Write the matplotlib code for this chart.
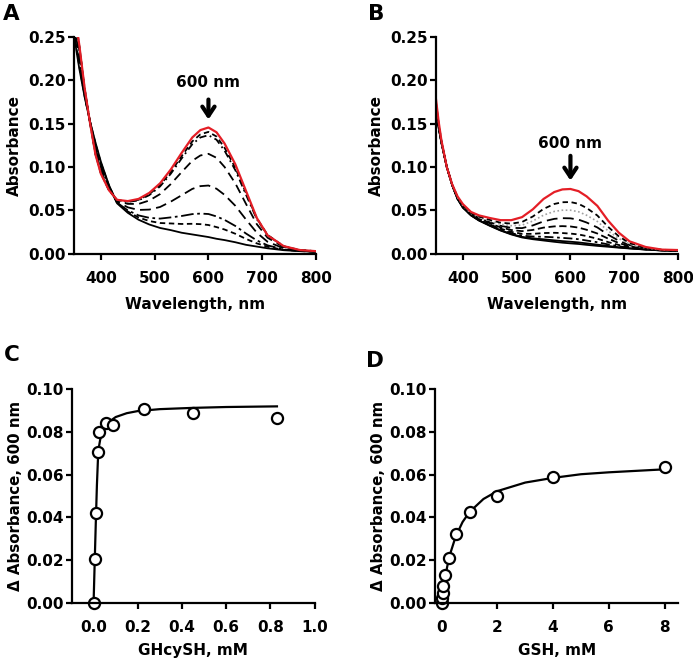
import matplotlib
matplotlib.use('Agg')
import matplotlib.pyplot as plt

plt.rcParams['font.family'] = ['DejaVu Sans']
plt.rcParams['font.weight'] = 'bold'
plt.rcParams['axes.labelweight'] = 'bold'
plt.rcParams['font.size'] = 11

RED = '#e41e26'

# wavelength grid, nm
wl = [350, 355, 360, 370, 380, 390, 400, 415, 430, 450, 470, 490, 510, 530, 550,
      570, 585, 600, 615, 630, 650, 670, 690, 710, 740, 770, 800]

# panel A spectra
a_final = [0.285, 0.262, 0.240, 0.190, 0.150, 0.114, 0.092, 0.073, 0.062, 0.0605, 0.063, 0.070, 0.081, 0.097,
           0.116, 0.134, 0.1425, 0.1455, 0.140, 0.127, 0.103, 0.072, 0.041, 0.021, 0.0085, 0.004, 0.0027]
a_base = [0.253, 0.232, 0.213, 0.180, 0.152, 0.128, 0.106, 0.079, 0.058, 0.047, 0.039, 0.0335, 0.0295, 0.027,
          0.024, 0.022, 0.0205, 0.019, 0.017, 0.0155, 0.013, 0.010, 0.008, 0.006, 0.0038, 0.0027, 0.002]
a_96 = [0.2837, 0.2608, 0.2389, 0.1896, 0.1501, 0.1146, 0.0926, 0.0732, 0.0618, 0.0600, 0.0620, 0.0685, 0.0789, 0.0942,
        0.1123, 0.1295, 0.1376, 0.1404, 0.1351, 0.1221, 0.0989, 0.0695, 0.0406, 0.0214, 0.0083, 0.0039, 0.0027]
a_93 = [0.2828, 0.2599, 0.2381, 0.1893, 0.1501, 0.1150, 0.0930, 0.0734, 0.0617, 0.0596, 0.0613, 0.0674, 0.0774, 0.0921,
        0.1096, 0.1262, 0.1340, 0.1366, 0.1314, 0.1187, 0.0962, 0.0677, 0.0396, 0.0209, 0.0082, 0.0039, 0.0027]
a_76 = [0.2773, 0.2548, 0.2335, 0.1876, 0.1505, 0.1174, 0.0954, 0.0744, 0.0610, 0.0573, 0.0572, 0.0612, 0.0686, 0.0802,
        0.0939, 0.1071, 0.1132, 0.1151, 0.1105, 0.0999, 0.0810, 0.0571, 0.0338, 0.0182, 0.0074, 0.0037, 0.0025]
a_47 = [0.2680, 0.2461, 0.2257, 0.1847, 0.1511, 0.1214, 0.0994, 0.0762, 0.0599, 0.0533, 0.0503, 0.0507, 0.0537, 0.0599,
        0.0672, 0.0746, 0.0778, 0.0785, 0.0748, 0.0677, 0.0551, 0.0391, 0.0240, 0.0135, 0.0060, 0.0033, 0.0023]
a_21 = [0.2597, 0.2383, 0.2187, 0.1821, 0.1516, 0.1251, 0.1031, 0.0777, 0.0588, 0.0498, 0.0440, 0.0412, 0.0403, 0.0417,
        0.0433, 0.0455, 0.0461, 0.0456, 0.0428, 0.0388, 0.0318, 0.0230, 0.0151, 0.0094, 0.0048, 0.0030, 0.0021]
a_11 = [0.2565, 0.2353, 0.2160, 0.1811, 0.1518, 0.1265, 0.1045, 0.0783, 0.0584, 0.0485, 0.0416, 0.0375, 0.0352, 0.0347,
        0.0341, 0.0343, 0.0339, 0.0329, 0.0305, 0.0277, 0.0228, 0.0168, 0.0117, 0.0078, 0.0043, 0.0028, 0.0021]

# panel B spectra
b_final = [0.178, 0.152, 0.131, 0.100, 0.080, 0.066, 0.057, 0.048, 0.044, 0.041, 0.0385, 0.0385, 0.042, 0.051,
           0.063, 0.071, 0.074, 0.0745, 0.072, 0.066, 0.055, 0.038, 0.024, 0.014, 0.0075, 0.0045, 0.004]
b_base = [0.163, 0.145, 0.128, 0.100, 0.079, 0.063, 0.053, 0.044, 0.038, 0.032, 0.0265, 0.022, 0.0185, 0.0165,
          0.015, 0.0135, 0.0125, 0.0117, 0.011, 0.010, 0.0088, 0.0078, 0.0067, 0.0058, 0.0045, 0.0035, 0.003]
b_76 = [0.1744, 0.1503, 0.1303, 0.1000, 0.0798, 0.0653, 0.0560, 0.0470, 0.0426, 0.0388, 0.0356, 0.0345, 0.0364, 0.0427,
        0.0515, 0.0572, 0.0592, 0.0594, 0.0574, 0.0526, 0.0439, 0.0308, 0.0198, 0.0120, 0.0068, 0.0043, 0.0038]
b_61 = [0.1722, 0.1493, 0.1298, 0.1000, 0.0796, 0.0648, 0.0554, 0.0464, 0.0417, 0.0375, 0.0338, 0.0321, 0.0328, 0.0375,
        0.0443, 0.0486, 0.0500, 0.0500, 0.0482, 0.0442, 0.0370, 0.0262, 0.0173, 0.0108, 0.0063, 0.0041, 0.0036]
b_46 = [0.1699, 0.1482, 0.1294, 0.1000, 0.0795, 0.0644, 0.0548, 0.0458, 0.0408, 0.0361, 0.0320, 0.0296, 0.0293, 0.0324,
        0.0371, 0.0400, 0.0408, 0.0406, 0.0391, 0.0358, 0.0301, 0.0217, 0.0147, 0.0096, 0.0059, 0.0040, 0.0035]
b_31 = [0.1677, 0.1472, 0.1289, 0.1000, 0.0793, 0.0639, 0.0542, 0.0452, 0.0399, 0.0348, 0.0302, 0.0271, 0.0258, 0.0272,
        0.0299, 0.0313, 0.0316, 0.0312, 0.0299, 0.0274, 0.0231, 0.0172, 0.0121, 0.0083, 0.0054, 0.0038, 0.0033]
b_18 = [0.1657, 0.1463, 0.1285, 0.1000, 0.0792, 0.0635, 0.0537, 0.0447, 0.0391, 0.0336, 0.0287, 0.0250, 0.0227, 0.0227,
        0.0236, 0.0239, 0.0236, 0.0230, 0.0220, 0.0201, 0.0171, 0.0132, 0.0098, 0.0073, 0.0050, 0.0037, 0.0032]
b_09 = [0.1644, 0.1456, 0.1283, 0.1000, 0.0791, 0.0633, 0.0534, 0.0444, 0.0385, 0.0328, 0.0276, 0.0235, 0.0206, 0.0196,
        0.0193, 0.0187, 0.0180, 0.0174, 0.0165, 0.0150, 0.0130, 0.0105, 0.0083, 0.0065, 0.0048, 0.0036, 0.0031]
b_03 = [0.1635, 0.1452, 0.1281, 0.1000, 0.0790, 0.0631, 0.0531, 0.0441, 0.0382, 0.0323, 0.0269, 0.0225, 0.0192, 0.0175,
        0.0164, 0.0152, 0.0143, 0.0136, 0.0128, 0.0117, 0.0102, 0.0087, 0.0072, 0.0060, 0.0046, 0.0035, 0.0030]

# panel C: GHcySH titration
c_x = [0, 0.006, 0.011, 0.021, 0.024, 0.055, 0.086, 0.228, 0.452, 0.83]
c_y = [0.0, 0.0203, 0.042, 0.0708, 0.080, 0.084, 0.0833, 0.0908, 0.0887, 0.0867]
cfit_x = [0, 0.005, 0.01, 0.015, 0.02, 0.025, 0.03, 0.04, 0.06, 0.08, 0.1, 0.15, 0.2, 0.3, 0.45, 0.6, 0.83]
cfit_y = [0, 0.019, 0.0375, 0.055, 0.068, 0.0735, 0.0765, 0.0798, 0.0835, 0.0855, 0.087, 0.0888, 0.0898, 0.0907,
          0.0913, 0.0917, 0.092]

# panel D: GSH titration
d_x = [0, 0.0156, 0.031, 0.0625, 0.125, 0.25, 0.5, 1, 2, 4, 8]
d_y = [0, 0.0023, 0.0047, 0.0078, 0.013, 0.021, 0.032, 0.0424, 0.0501, 0.059, 0.0634]
dfit_x = [0, 0.05, 0.1, 0.2, 0.3, 0.5, 0.75, 1, 1.5, 2, 3, 4, 5, 6, 7, 8]
dfit_y = [0, 0.0052, 0.0097, 0.017, 0.0227, 0.0309, 0.0378, 0.0425, 0.0486, 0.0523, 0.0563, 0.0585, 0.0602,
          0.0611, 0.0618, 0.0625]


def style_axes(ax):
    for s in ['top', 'right']:
        ax.spines[s].set_visible(False)
    for s in ['left', 'bottom']:
        ax.spines[s].set_linewidth(1.6)
    ax.tick_params(direction='out', length=4.3, width=1.6, labelsize=11)
    ax.tick_params(axis='x', pad=8)
    ax.tick_params(axis='y', pad=1.5)


W, H = 693, 664
fig = plt.figure(figsize=(W / 100, H / 100), dpi=100)


def px_axes(left, right, top, bottom):
    return fig.add_axes([left / W, 1 - bottom / H, (right - left) / W, (bottom - top) / H])


axA = px_axes(74, 316, 37, 253.5)
axB = px_axes(436, 678, 37, 253.5)
axC = px_axes(71.5, 314.5, 389.3, 602.7)
axD = px_axes(434.7, 678.5, 389.3, 602.7)

arrow = dict(arrowstyle='->, head_length=0.6, head_width=0.4', lw=3, color='black')

# A
axA.plot(wl, a_base, color='black', lw=1.3)
axA.plot(wl, a_11, color='black', lw=1.3, dashes=(3, 2))
axA.plot(wl, a_21, color='black', lw=1.3, dashes=(7, 2, 1.5, 2))
axA.plot(wl, a_47, color='black', lw=1.3, dashes=(6, 3))
axA.plot(wl, a_76, color='black', lw=1.3, dashes=(5, 3))
axA.plot(wl, a_93, color='black', lw=1.3, dashes=(4, 2, 1, 2))
axA.plot(wl, a_96, color='black', lw=1.3, dashes=(3, 2))
axA.plot(wl, a_final, color=RED, lw=1.6)
axA.annotate('', xy=(600, 0.1515), xytext=(600, 0.181), arrowprops=arrow)
axA.text(600, 0.192, '600 nm', ha='center', va='baseline', fontsize=11, fontweight='bold')

# B
axB.plot(wl, b_base, color='black', lw=1.3)
axB.plot(wl, b_03, color='black', lw=1.3)
axB.plot(wl, b_09, color='black', lw=1.3, dashes=(5, 2, 1.5, 2))
axB.plot(wl, b_18, color='black', lw=1.3, dashes=(3, 2))
axB.plot(wl, b_31, color='black', lw=1.3, dashes=(4, 2))
axB.plot(wl, b_46, color='black', lw=1.3, dashes=(6, 3))
axB.plot(wl, b_61, color='#a0a0a0', lw=1.2, dashes=(1, 1.5))
axB.plot(wl, b_76, color='black', lw=1.3, dashes=(3, 2))
axB.plot(wl, b_final, color=RED, lw=1.6)
axB.annotate('', xy=(600, 0.081), xytext=(600, 0.116), arrowprops=arrow)
axB.text(600, 0.1215, '600 nm', ha='center', va='baseline', fontsize=11, fontweight='bold')

for ax in [axA, axB]:
    ax.set_xlim(350, 800)
    ax.set_ylim(0, 0.25)
    ax.set_xticks([400, 500, 600, 700, 800])
    ax.set_yticks([0, 0.05, 0.10, 0.15, 0.20, 0.25])
    ax.set_yticklabels(['0.00', '0.05', '0.10', '0.15', '0.20', '0.25'])
    ax.set_xlabel('Wavelength, nm', fontsize=11, labelpad=8.5)
    ax.set_ylabel('Absorbance', fontsize=11, labelpad=4.5)
    style_axes(ax)

# C
axC.plot(cfit_x, cfit_y, color='black', lw=1.6)
axC.plot(c_x, c_y, 'o', mfc='white', mec='black', ms=8, mew=1.6)
axC.set_xlim(-0.1, 1.0)
axC.set_xticks([0, 0.2, 0.4, 0.6, 0.8, 1.0])
axC.set_xticklabels(['0.0', '0.2', '0.4', '0.6', '0.8', '1.0'])
axC.set_xlabel('GHcySH, mM', fontsize=11, labelpad=6)

# D
axD.plot(dfit_x, dfit_y, color='black', lw=1.6)
axD.plot(d_x, d_y, 'o', mfc='white', mec='black', ms=8, mew=1.6)
axD.set_xlim(-0.25, 8.5)
axD.set_xticks([0, 2, 4, 6, 8])
axD.set_xlabel('GSH, mM', fontsize=11, labelpad=6)

for ax in [axC, axD]:
    ax.set_ylim(0, 0.10)
    ax.set_yticks([0, 0.02, 0.04, 0.06, 0.08, 0.10])
    ax.set_yticklabels(['0.00', '0.02', '0.04', '0.06', '0.08', '0.10'])
    ax.set_ylabel('\u0394 Absorbance, 600 nm', fontsize=10.8, labelpad=2)
    style_axes(ax)
    for ln in ax.lines:
        ln.set_clip_on(False)

fig.text(3 / W, 1 - 20 / H, 'A', fontsize=15.5, fontweight='bold', va='baseline')
fig.text(368 / W, 1 - 20 / H, 'B', fontsize=15.5, fontweight='bold', va='baseline')
fig.text(4 / W, 1 - 361 / H, 'C', fontsize=15.5, fontweight='bold', va='baseline')
fig.text(366 / W, 1 - 367 / H, 'D', fontsize=15.5, fontweight='bold', va='baseline')

fig.savefig('out.png', dpi=100)
